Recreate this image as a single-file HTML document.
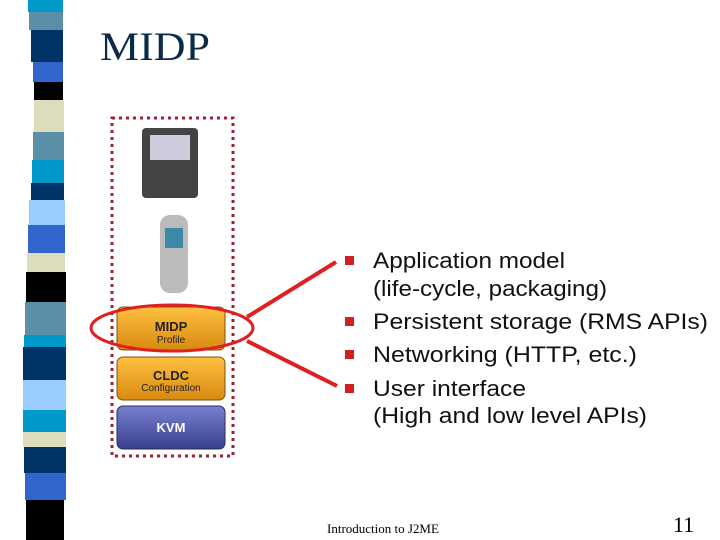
<html><body style="margin:0;width:720px;height:540px;background:#fff;position:relative;overflow:hidden;font-family:'Liberation Sans',sans-serif">
<svg width="720" height="540" style="position:absolute;left:0;top:0">
<g>
<rect x="28" y="0" width="35" height="12" fill="#0099cc"/>
<rect x="29" y="12" width="34" height="18" fill="#5b8fa8"/>
<rect x="31" y="30" width="32" height="32" fill="#003366"/>
<rect x="33" y="62" width="30" height="20" fill="#3366cc"/>
<rect x="34" y="82" width="29" height="18" fill="#000"/>
<rect x="34" y="100" width="30" height="32" fill="#ddddbb"/>
<rect x="33" y="132" width="31" height="28" fill="#5b8fa8"/>
<rect x="32" y="160" width="32" height="23" fill="#0099cc"/>
<rect x="31" y="183" width="33" height="17" fill="#003366"/>
<rect x="29" y="200" width="36" height="25" fill="#99ccff"/>
<rect x="28" y="225" width="37" height="28" fill="#3366cc"/>
<rect x="27" y="253" width="38" height="19" fill="#ddddbb"/>
<rect x="26" y="272" width="40" height="30" fill="#000"/>
<rect x="25" y="302" width="41" height="33" fill="#5b8fa8"/>
<rect x="24" y="335" width="42" height="12" fill="#0099cc"/>
<rect x="23" y="347" width="43" height="33" fill="#003366"/>
<rect x="23" y="380" width="43" height="30" fill="#99ccff"/>
<rect x="23" y="410" width="43" height="22" fill="#0099cc"/>
<rect x="23" y="432" width="43" height="15" fill="#ddddbb"/>
<rect x="24" y="447" width="42" height="26" fill="#003366"/>
<rect x="25" y="473" width="41" height="27" fill="#3366cc"/>
<rect x="26" y="500" width="38" height="40" fill="#000"/>
</g>
<rect x="112" y="118" width="121" height="338" fill="none" stroke="#a02030" stroke-width="3" stroke-dasharray="3,4"/>
<rect x="142" y="128" width="56" height="70" rx="4" fill="#444"/>
<rect x="150" y="135" width="40" height="25" fill="#ccd"/>
<rect x="160" y="215" width="28" height="78" rx="10" fill="#bbb"/>
<rect x="165" y="228" width="18" height="20" fill="#3a8aa8"/>
<defs><linearGradient id="o" x1="0" y1="0" x2="0" y2="1"><stop offset="0" stop-color="#ffc040"/><stop offset="1" stop-color="#d88a10"/></linearGradient>
<linearGradient id="b" x1="0" y1="0" x2="0" y2="1"><stop offset="0" stop-color="#7a80d0"/><stop offset="1" stop-color="#3a4090"/></linearGradient></defs>
<rect x="117" y="307" width="108" height="43" rx="6" fill="url(#o)" stroke="#7a5010"/>
<rect x="117" y="357" width="108" height="43" rx="6" fill="url(#o)" stroke="#7a5010"/>
<rect x="117" y="406" width="108" height="43" rx="6" fill="url(#b)" stroke="#2a2a60"/>
<text x="171" y="331" text-anchor="middle" font-size="13" font-weight="bold" fill="#222">MIDP</text>
<text x="171" y="343" text-anchor="middle" font-size="10" fill="#222">Profile</text>
<text x="171" y="380" text-anchor="middle" font-size="13" font-weight="bold" fill="#222">CLDC</text>
<text x="171" y="391" text-anchor="middle" font-size="10" fill="#222">Configuration</text>
<text x="171" y="432" text-anchor="middle" font-size="13" font-weight="bold" fill="#fff">KVM</text>
<ellipse cx="172" cy="328" rx="81" ry="23" fill="none" stroke="#e02020" stroke-width="3"/>
<line x1="247" y1="317" x2="336" y2="262" stroke="#e02020" stroke-width="4"/>
<line x1="247" y1="341" x2="337" y2="386" stroke="#e02020" stroke-width="4"/>
<g fill="#d02020"><rect x="345" y="256" width="9" height="9"/><rect x="345" y="317" width="9" height="9"/><rect x="345" y="350" width="9" height="9"/><rect x="345" y="384" width="9" height="9"/></g>
<g font-size="22" fill="#111" lengthAdjust="spacingAndGlyphs">
<text x="373" y="268" textLength="192" lengthAdjust="spacingAndGlyphs">Application model</text>
<text x="373" y="296" textLength="234" lengthAdjust="spacingAndGlyphs">(life-cycle, packaging)</text>
<text x="373" y="329" textLength="335" lengthAdjust="spacingAndGlyphs">Persistent storage (RMS APIs)</text>
<text x="373" y="362" textLength="264" lengthAdjust="spacingAndGlyphs">Networking (HTTP, etc.)</text>
<text x="373" y="396" textLength="153" lengthAdjust="spacingAndGlyphs">User interface</text>
<text x="373" y="423" textLength="274" lengthAdjust="spacingAndGlyphs">(High and low level APIs)</text>
</g>
<text x="100" y="60" font-family="Liberation Serif" font-size="40" fill="#0b2a4a" textLength="110" lengthAdjust="spacingAndGlyphs">MIDP</text>
<text x="327" y="533" font-family="Liberation Serif" font-size="13">Introduction to J2ME</text>
<text x="673" y="532" font-family="Liberation Serif" font-size="22">11</text>
</svg>
</body></html>
